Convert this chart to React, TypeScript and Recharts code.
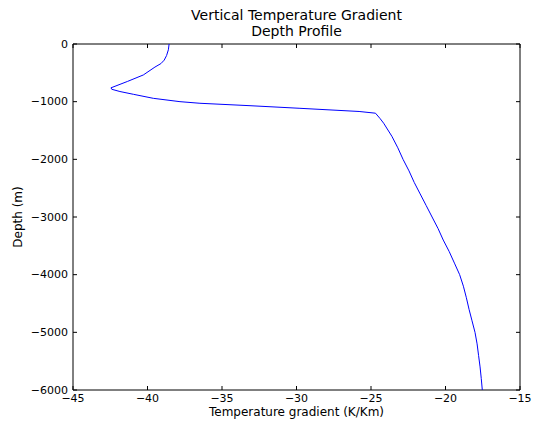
import { ScatterChart, Scatter, XAxis, YAxis } from 'recharts';

// temperature gradient (K/Km) sampled down the well, paired with depth (m)
const gradient = [
  -38.55, -38.6, -38.72, -38.88, -39.1, -39.5, -40.28, -41.35, -42.45, -42.4,
  -41.85, -40.95, -39.61, -37.82, -36.48, -33.12, -29.77, -25.8, -24.7,
  -24.4, -24.15, -23.6, -23.2, -22.85, -22.45, -22.1, -21.7, -21.3, -20.9,
  -20.5, -20.15, -19.75, -19.4, -19.05, -18.8, -18.6, -18.42, -18.22, -18.02,
  -17.88, -17.78, -17.68, -17.6, -17.53,
];
const depth = [
  0, -100, -200, -280, -340, -400, -537, -650, -760, -785,
  -824, -872, -942, -1000, -1028, -1070, -1115, -1170, -1200,
  -1290, -1374, -1600, -1800, -2000, -2200, -2400, -2600, -2800, -3000,
  -3200, -3400, -3600, -3800, -4000, -4200, -4400, -4600, -4800, -5000,
  -5200, -5400, -5600, -5800, -6000,
];

const xTicks = [-45, -40, -35, -30, -25, -20, -15];
const yTicks = [-6000, -5000, -4000, -3000, -2000, -1000, 0];

const profile = gradient.map((g, i) => ({ gradient: g, depth: depth[i] }));

const FONT = '"DejaVu Sans", sans-serif';
const TICK = 4;
const W = 538;
const H = 425;
const MARGIN = { top: 43, right: 17, bottom: 0, left: 0 };
// the 1px top/right axes sit right on the frame edge
const PLOT_TOP = MARGIN.top + 1;
const PLOT_RIGHT = W - MARGIN.right - 1;

const fmt = (v: number) => String(v).replace('-', '\u2212');

// matplotlib-style ticks: short marks pointing into the plot on both
// opposite edges of the frame, labels only on bottom/left
function BottomTick({ x, y, payload }: any) {
  return (
    <g>
      <line x1={x} x2={x} y1={y} y2={y - TICK} stroke="#000" />
      <line x1={x} x2={x} y1={PLOT_TOP} y2={PLOT_TOP + TICK} stroke="#000" />
      <text x={x} y={y + 8} textAnchor="middle" dominantBaseline="central"
        fontSize={11} fontFamily={FONT} fill="#000">
        {fmt(payload.value)}
      </text>
    </g>
  );
}

function LeftTick({ x, y, payload }: any) {
  return (
    <g>
      <line x1={x} x2={x + TICK} y1={y} y2={y} stroke="#000" />
      <line x1={PLOT_RIGHT} x2={PLOT_RIGHT - TICK} y1={y} y2={y} stroke="#000" />
      <text x={x - 5} y={y} textAnchor="end" dominantBaseline="central"
        fontSize={11} fontFamily={FONT} fill="#000">
        {fmt(payload.value)}
      </text>
    </g>
  );
}

export default function App() {
  return (
    <div style={{ position: 'absolute', left: 0, top: 0, width: W, height: H, background: '#fff', fontFamily: FONT }}>
      <div style={{ position: 'absolute', left: 73, width: 447, top: 7, textAlign: 'center', fontSize: 14, lineHeight: '16px', color: '#000' }}>
        Vertical Temperature Gradient
        <br />
        Depth Profile
      </div>
      <div style={{ position: 'absolute', left: 73, width: 447, top: 404, textAlign: 'center', fontSize: 12, lineHeight: '16px', color: '#000' }}>
        Temperature gradient (K/Km)
      </div>
      <div style={{ position: 'absolute', left: 18, top: 217, width: 0, height: 0 }}>
        <div style={{ position: 'absolute', transform: 'translate(-50%, -50%) rotate(-90deg)', whiteSpace: 'nowrap', fontSize: 12, lineHeight: '16px', color: '#000' }}>
          Depth (m)
        </div>
      </div>
      <ScatterChart
        width={W}
        height={H}
        margin={MARGIN}
        style={{ position: 'absolute', left: 0, top: 0 }}
      >
        <XAxis xAxisId="b" type="number" dataKey="gradient" domain={[-45, -15]} ticks={xTicks}
          interval={0} height={35} tickSize={0} tickMargin={0} tick={<BottomTick />}
          axisLine={{ stroke: '#000' }} tickLine={false} allowDataOverflow />
        <XAxis xAxisId="t" orientation="top" type="number" dataKey="gradient" domain={[-45, -15]}
          height={1} tick={false} axisLine={{ stroke: '#000' }} tickLine={false} allowDataOverflow />
        <YAxis yAxisId="l" type="number" dataKey="depth" domain={[-6000, 0]} ticks={yTicks}
          interval={0} width={73} tickSize={0} tickMargin={0} tick={<LeftTick />}
          axisLine={{ stroke: '#000' }} tickLine={false} allowDataOverflow />
        <YAxis yAxisId="r" orientation="right" type="number" dataKey="depth" domain={[-6000, 0]}
          width={1} tick={false} axisLine={{ stroke: '#000' }} tickLine={false} allowDataOverflow />
        {/* invisible series so the top and right frame axes get drawn */}
        <Scatter
          xAxisId="t"
          yAxisId="r"
          data={profile}
          shape={() => <g />}
          isAnimationActive={false}
        />
        <Scatter
          xAxisId="b"
          yAxisId="l"
          data={profile}
          line={{ stroke: '#0000ff', strokeWidth: 1 }}
          lineType="joint"
          shape={() => <g />}
          isAnimationActive={false}
        />
      </ScatterChart>
    </div>
  );
}
